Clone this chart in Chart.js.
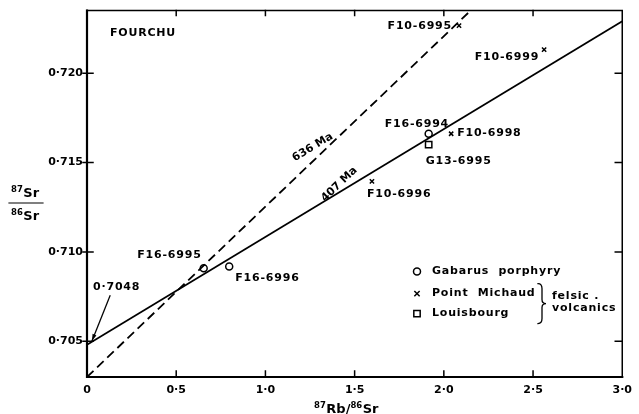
<!DOCTYPE html>
<html>
<head>
<meta charset="utf-8">
<script src="https://cdn.jsdelivr.net/npm/chart.js@4/dist/chart.umd.min.js"></script>
<style>
  html, body { margin: 0; padding: 0; background: #fff; }
  #chart { display: block; }
</style>
</head>
<body>
<canvas id="chart" width="639" height="414"></canvas>
<script>
// isochron lines (87Rb/86Sr vs 87Sr/86Sr)
const line407X = [0, 3.0];
const line407Y = [0.7048, 0.7229];
const line636X = [0, 2.15];
const line636Y = [0.703, 0.7235];

// Gabarus porphyry
const gabarusIds = ['F16-6995', 'F16-6996', 'F16-6994'];
const gabarusX = [0.654, 0.797, 1.915];
const gabarusY = [0.70909, 0.70918, 0.71661];

// Point Michaud felsic volcanics
const michaudIds = ['F10-6996', 'F10-6998', 'F10-6999', 'F10-6995'];
const michaudX = [1.597, 2.041, 2.562, 2.085];
const michaudY = [0.71395, 0.71661, 0.72132, 0.72266];

// Louisbourg felsic volcanics
const louisbourgIds = ['G13-6995'];
const louisbourgX = [1.915];
const louisbourgY = [0.7160];

const xTicks = [0, 0.5, 1.0, 1.5, 2.0, 2.5, 3.0];
const yTicks = [0.705, 0.710, 0.715, 0.720];

// where each sample label sits relative to its marker: [dx, dy, align]
const labelPlacement = {
    'F16-6995': [-2, -13, 'right'],
    'F16-6996': [6, 12, 'left'],
    'F16-6994': [-44, -10, 'left'],
    'G13-6995': [-3, 16, 'left'],
    'F10-6998': [6, -1, 'left'],
    'F10-6996': [-5, 13, 'left'],
    'F10-6999': [-5, 8, 'right'],
    'F10-6995': [-7, 1, 'right']
};

const FONT = '"DejaVu Sans", "Liberation Sans", sans-serif';

function pairs(xs, ys) {
    return xs.map((x, i) => ({ x: x, y: ys[i] }));
}

function fmt(v, digits) {
    if (v === 0) return '0';
    return v.toFixed(digits).replace('.', '\u00b7');
}

function superText(ctx, parts, x, y) {
    // parts: [text, isSuper]
    let cx = x;
    parts.forEach(([t, sup]) => {
        ctx.font = sup ? 'bold 8.5px ' + FONT : 'bold 13px ' + FONT;
        ctx.fillText(t, cx, sup ? y - 5 : y);
        cx += ctx.measureText(t).width + (sup ? 0.5 : 0);
    });
    return cx - x;
}

function brace(ctx, x, y1, y2) {
    const ym = (y1 + y2) / 2;
    ctx.beginPath();
    ctx.moveTo(x - 3, y1);
    ctx.quadraticCurveTo(x + 1, y1, x + 1, y1 + 5);
    ctx.lineTo(x + 1, ym - 4);
    ctx.quadraticCurveTo(x + 1, ym, x + 5, ym);
    ctx.quadraticCurveTo(x + 1, ym, x + 1, ym + 4);
    ctx.lineTo(x + 1, y2 - 5);
    ctx.quadraticCurveTo(x + 1, y2, x - 3, y2);
    ctx.stroke();
}

const decorations = {
    id: 'decorations',
    afterDraw(chart) {
        const ctx = chart.ctx;
        const a = chart.chartArea;
        const xs = chart.scales.x;
        const ys = chart.scales.y;
        ctx.save();
        ctx.strokeStyle = '#000';
        ctx.fillStyle = '#000';
        ctx.lineCap = 'square';

        // frame
        ctx.lineWidth = 1.5;
        ctx.beginPath();
        ctx.moveTo(a.left, a.top);
        ctx.lineTo(a.right, a.top);
        ctx.lineTo(a.right, a.bottom);
        ctx.stroke();
        ctx.lineWidth = 2.2;
        ctx.beginPath();
        ctx.moveTo(a.left, a.top);
        ctx.lineTo(a.left, a.bottom);
        ctx.lineTo(a.right, a.bottom);
        ctx.stroke();

        // ticks: inward on the frame, crossing the left axis
        ctx.lineWidth = 1.5;
        ctx.beginPath();
        xTicks.slice(1, -1).forEach(v => {
            const px = xs.getPixelForValue(v);
            ctx.moveTo(px, a.bottom); ctx.lineTo(px, a.bottom - 6);
            ctx.moveTo(px, a.top); ctx.lineTo(px, a.top + 5);
        });
        yTicks.forEach(v => {
            const py = ys.getPixelForValue(v);
            ctx.moveTo(a.left - 4, py); ctx.lineTo(a.left + 6, py);
            ctx.moveTo(a.right, py); ctx.lineTo(a.right - 7, py);
        });
        ctx.stroke();

        // sample labels
        ctx.font = 'bold 11px ' + FONT;
        ctx.letterSpacing = '0.8px';
        ctx.textBaseline = 'middle';
        const groups = [[2, gabarusIds], [3, michaudIds], [4, louisbourgIds]];
        groups.forEach(([di, ids]) => {
            const meta = chart.getDatasetMeta(di);
            ids.forEach((id, j) => {
                const el = meta.data[j];
                const [dx, dy, align] = labelPlacement[id];
                ctx.textAlign = align;
                ctx.fillText(id, el.x + dx, el.y + dy);
            });
        });

        // title
        ctx.textAlign = 'left';
        ctx.fillText('FOURCHU', a.left + 23, a.top + 23);

        // 0.7048 intercept arrow
        const p0 = chart.getDatasetMeta(0).data[0];
        const tx = p0.x + 23, ty = p0.y - 49;
        const hx = p0.x + 5, hy = p0.y - 4;
        ctx.fillText('0\u00b77048', p0.x + 6, p0.y - 58);
        ctx.lineWidth = 1.3;
        ctx.beginPath();
        ctx.moveTo(tx, ty); ctx.lineTo(hx, hy);
        ctx.stroke();
        const ang = Math.atan2(hy - ty, hx - tx);
        ctx.beginPath();
        ctx.moveTo(hx, hy);
        ctx.lineTo(hx - 7 * Math.cos(ang - 0.3), hy - 7 * Math.sin(ang - 0.3));
        ctx.lineTo(hx - 7 * Math.cos(ang + 0.3), hy - 7 * Math.sin(ang + 0.3));
        ctx.closePath();
        ctx.fill();

        // age labels along the isochrons
        const ageLabels = [['636 Ma', 0, 1.265, 0.71585], ['407 Ma', 1, 1.414, 0.71378]];
        ageLabels.forEach(([txt, di, lx, ly]) => {
            const d = chart.getDatasetMeta(di).data;
            const angle = Math.atan2(d[1].y - d[0].y, d[1].x - d[0].x);
            ctx.save();
            ctx.translate(xs.getPixelForValue(lx), ys.getPixelForValue(ly));
            ctx.rotate(angle);
            ctx.textAlign = 'center';
            ctx.letterSpacing = '0px';
            ctx.fillText(txt, 0, 0);
            ctx.restore();
        });

        // legend
        const lx = a.left + 330, lt = a.top + 261;
        const rows = [
            ['Gabarus  porphyry', 'circle', 3.5],
            ['Point  Michaud', 'crossRot', 3],
            ['Louisbourg', 'rect', 4.5]
        ];
        const rowY = [lt, lt + 22, lt + 42];
        rows.forEach(([txt, style, r], i) => {
            ctx.lineWidth = 1.5;
            ctx.fillStyle = '#fff';
            Chart.helpers.drawPoint(ctx, { pointStyle: style, radius: r, rotation: 0, borderWidth: 1.5 }, lx, rowY[i]);
            ctx.fillStyle = '#000';
            ctx.textAlign = 'left';
            ctx.fillText(txt, lx + 15, rowY[i]);
        });
        ctx.lineWidth = 1.3;
        brace(ctx, lx + 124, rowY[1] - 10, rowY[2] + 10);
        ctx.fillText('felsic .', lx + 135, rowY[1] + 3);
        ctx.fillText('volcanics', lx + 135, rowY[1] + 15);

        // axis titles
        ctx.letterSpacing = '0px';
        ctx.textBaseline = 'alphabetic';
        superText(ctx, [['87', true], ['Rb', false], ['/', false], ['86', true], ['Sr', false]], 314, 413);
        superText(ctx, [['87', true], ['Sr', false]], 11, 197);
        superText(ctx, [['86', true], ['Sr', false]], 11, 220);
        ctx.lineWidth = 1.2;
        ctx.beginPath();
        ctx.moveTo(9, 203); ctx.lineTo(43, 203);
        ctx.stroke();

        ctx.restore();
    }
};

new Chart(document.getElementById('chart').getContext('2d'), {
    type: 'scatter',
    data: {
        datasets: [
            {
                type: 'line', label: '407 Ma', data: pairs(line407X, line407Y),
                borderColor: '#000', borderWidth: 1.8, pointRadius: 0, fill: false
            },
            {
                type: 'line', label: '636 Ma', data: pairs(line636X, line636Y),
                borderColor: '#000', borderWidth: 1.8, borderDash: [9, 5], pointRadius: 0, fill: false
            },
            {
                label: 'Gabarus porphyry', data: pairs(gabarusX, gabarusY),
                pointStyle: 'circle', pointRadius: 3.5, borderColor: '#000', backgroundColor: '#fff', borderWidth: 1.5
            },
            {
                label: 'Point Michaud', data: pairs(michaudX, michaudY),
                pointStyle: 'crossRot', pointRadius: 3, borderColor: '#000', borderWidth: 1.5
            },
            {
                label: 'Louisbourg', data: pairs(louisbourgX, louisbourgY),
                pointStyle: 'rect', pointRadius: 4.5, borderColor: '#000', backgroundColor: '#fff', borderWidth: 1.5
            }
        ]
    },
    options: {
        responsive: false,
        animation: false,
        devicePixelRatio: 1,
        layout: { padding: { top: 10, right: 11, left: 0, bottom: 0 } },
        plugins: { legend: { display: false }, tooltip: { enabled: false } },
        scales: {
            x: {
                type: 'linear', min: 0, max: 3.0,
                grid: { display: false, tickLength: 0 },
                border: { display: false },
                afterBuildTicks: (scale) => { scale.ticks = xTicks.map(v => ({ value: v })); },
                afterFit: (scale) => { scale.height = 37; },
                ticks: {
                    color: '#000', padding: 7, maxRotation: 0, autoSkip: false,
                    font: { family: FONT, size: 11, weight: 'bold' },
                    callback: (v) => fmt(v, 1)
                }
            },
            y: {
                type: 'linear', min: 0.703, max: 0.7235,
                grid: { display: false, tickLength: 0 },
                border: { display: false },
                afterBuildTicks: (scale) => { scale.ticks = yTicks.map(v => ({ value: v })); },
                afterFit: (scale) => { scale.width = 87; },
                ticks: {
                    color: '#000', padding: 4, autoSkip: false,
                    font: { family: FONT, size: 11, weight: 'bold' },
                    callback: (v) => fmt(v, 3)
                }
            }
        }
    },
    plugins: [decorations]
});
</script>
</body>
</html>
